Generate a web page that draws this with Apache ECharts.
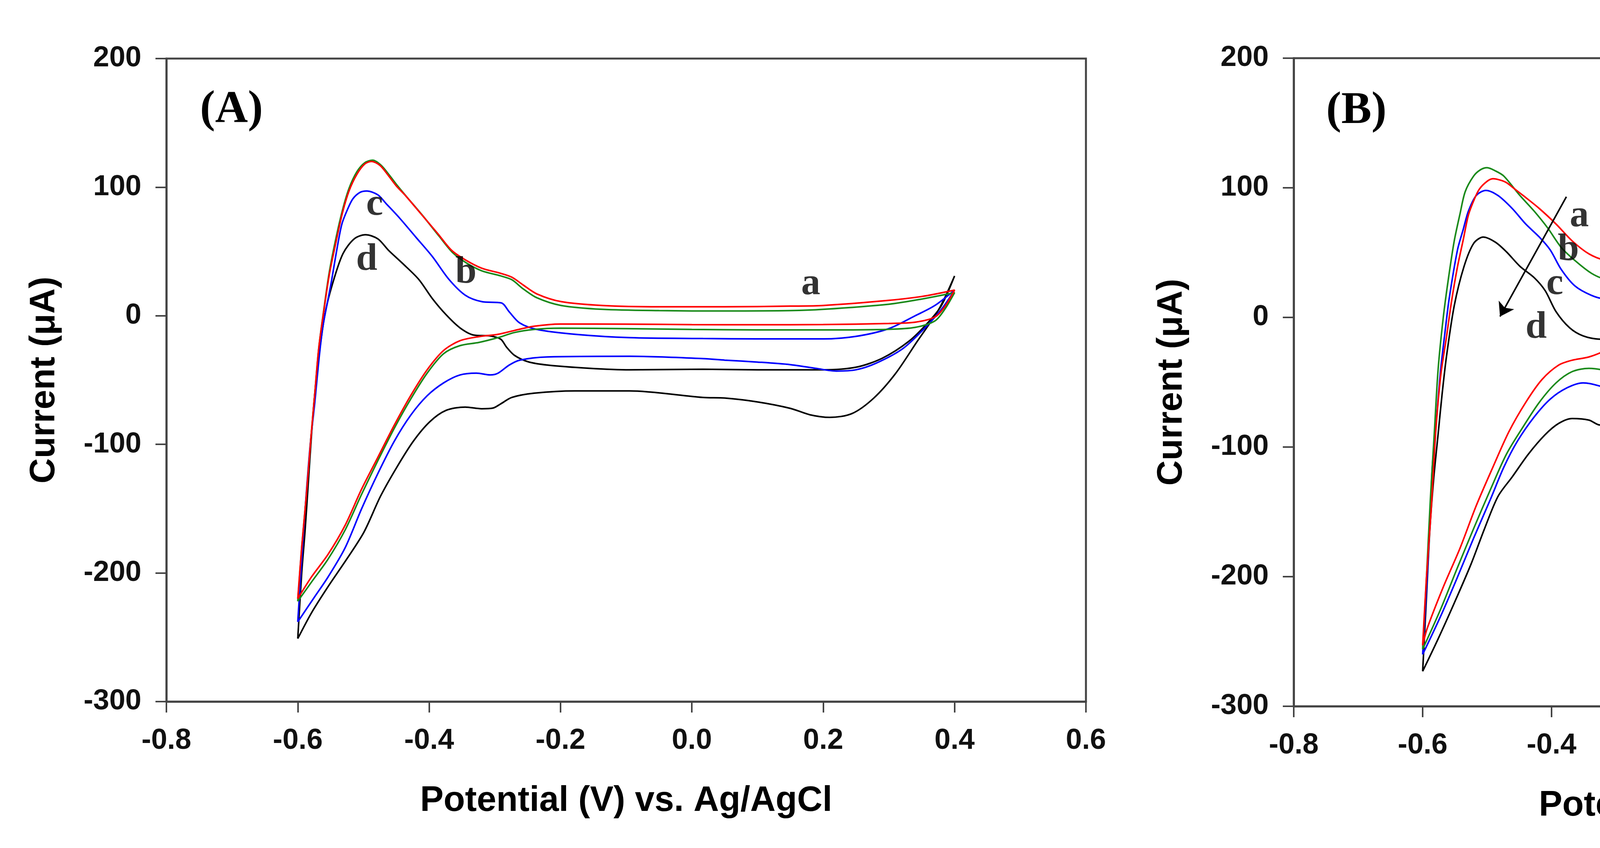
<!DOCTYPE html>
<html>
<head>
<meta charset="utf-8">
<script src="https://cdn.jsdelivr.net/npm/echarts/dist/echarts.min.js"></script>
<style>
html,body{margin:0;padding:0;background:#fff;}
#chart{width:5757px;height:2172px;}
</style>
</head>
<body>
<div id="chart"></div>
<script>
// ---------- axis ticks & texts ----------
const xTicks = [-0.8, -0.6, -0.4, -0.2, 0.0, 0.2, 0.4, 0.6];
const yTicks = [-300, -200, -100, 0, 100, 200];
const xTitle = 'Potential (V) vs. Ag/AgCl';
const yTitle = 'Current (\u03bcA)';
const panelNames = ['(A)', '(B)'];

// ---------- Panel A : [potential V, current uA] ----------
const A_a_anodic = [[-0.600,-220],[-0.594,-180],[-0.587,-140],[-0.580,-95],[-0.574,-60],[-0.568,-25],[-0.560,5],[-0.552,32],[-0.542,57],[-0.532,80],[-0.522,97],[-0.510,110],[-0.498,118],[-0.488,120],[-0.475,117],[-0.462,109],[-0.450,101],[-0.437,94],[-0.412,79],[-0.387,64],[-0.366,51],[-0.345,43.5],[-0.320,37],[-0.291,33],[-0.274,30],[-0.257,24],[-0.236,17],[-0.199,11],[-0.136,8],[-0.05,7],[0.05,7],[0.15,7.5],[0.2,8],[0.3,12],[0.35,15],[0.4,20]];
const A_a_cathodic = [[0.4,20],[0.385,7],[0.37,-1],[0.34,-5],[0.3,-6],[0.2,-6.8],[0.1,-7],[0.0,-6.9],[-0.1,-6.5],[-0.2,-6.4],[-0.24,-8.1],[-0.27,-11.4],[-0.295,-14.4],[-0.324,-16.2],[-0.353,-19.4],[-0.378,-27],[-0.403,-42],[-0.428,-62],[-0.453,-85],[-0.478,-110],[-0.503,-135],[-0.528,-163],[-0.554,-185.6],[-0.579,-203],[-0.600,-220]];
const A_b_anodic = [[-0.600,-222],[-0.594,-180],[-0.587,-140],[-0.580,-95],[-0.574,-60],[-0.568,-25],[-0.560,6],[-0.552,34],[-0.542,60],[-0.532,82],[-0.522,99],[-0.510,112],[-0.498,119],[-0.486,121],[-0.473,117],[-0.460,109],[-0.448,101],[-0.435,93],[-0.410,78],[-0.385,62],[-0.364,49],[-0.343,41],[-0.320,35],[-0.291,31],[-0.274,28],[-0.257,21],[-0.236,14],[-0.199,8],[-0.136,5],[-0.05,4],[0.05,3.7],[0.15,4],[0.2,5],[0.3,9],[0.35,13],[0.4,18]];
const A_b_cathodic = [[0.4,18],[0.385,5],[0.37,-4],[0.34,-9],[0.3,-10.5],[0.2,-11],[0.1,-11],[0.0,-10.6],[-0.1,-10],[-0.2,-9.6],[-0.24,-10.6],[-0.27,-13],[-0.295,-17],[-0.324,-20.7],[-0.353,-23.2],[-0.378,-29.5],[-0.403,-44.6],[-0.428,-64.7],[-0.453,-87.4],[-0.478,-112.6],[-0.503,-139],[-0.528,-166.7],[-0.554,-189.3],[-0.579,-207],[-0.600,-222]];
const A_c_anodic = [[-0.600,-238],[-0.594,-190],[-0.588,-145],[-0.581,-100],[-0.574,-67],[-0.568,-35],[-0.562,-9],[-0.555,10],[-0.549,26],[-0.541,50],[-0.533,71],[-0.524,83],[-0.516,91],[-0.505,96],[-0.495,97],[-0.478,94],[-0.466,87.5],[-0.445,76],[-0.420,61],[-0.395,46],[-0.370,28.4],[-0.345,16],[-0.320,11],[-0.290,10],[-0.278,3],[-0.262,-5.6],[-0.236,-10.6],[-0.178,-14.4],[-0.095,-17],[0.017,-17.7],[0.1,-18],[0.2,-18],[0.25,-16],[0.3,-10],[0.34,0],[0.37,8],[0.4,20]];
const A_c_cathodic = [[0.4,20],[0.38,5],[0.35,-12],[0.32,-26],[0.28,-37],[0.25,-42],[0.22,-43],[0.19,-41],[0.15,-38],[0.1,-36],[0.05,-34.5],[0.017,-33.3],[-0.095,-31.5],[-0.22,-32],[-0.262,-34.5],[-0.278,-38.3],[-0.295,-44.6],[-0.307,-46],[-0.328,-44.6],[-0.353,-46],[-0.378,-52.2],[-0.403,-62.2],[-0.428,-77.3],[-0.453,-97.5],[-0.478,-122.6],[-0.503,-150.3],[-0.528,-180.5],[-0.554,-203.2],[-0.574,-218.3],[-0.600,-238]];
const A_d_anodic = [[-0.600,-251],[-0.594,-200],[-0.589,-168],[-0.584,-130],[-0.579,-92],[-0.574,-60],[-0.568,-32],[-0.558,3],[-0.545,28.4],[-0.531,48.5],[-0.514,59.8],[-0.497,63],[-0.478,59.8],[-0.462,51],[-0.441,41],[-0.416,28.4],[-0.395,13.3],[-0.374,0.7],[-0.353,-9.4],[-0.332,-15],[-0.307,-15.7],[-0.291,-18.2],[-0.282,-24.5],[-0.270,-30.8],[-0.249,-35.8],[-0.220,-38.3],[-0.157,-40.8],[-0.095,-42],[0.017,-41.6],[0.1,-42],[0.2,-42],[0.25,-40],[0.29,-33],[0.33,-20],[0.36,-5],[0.38,8],[0.4,31]];
const A_d_cathodic = [[0.4,31],[0.376,5],[0.343,-20],[0.31,-45],[0.277,-64],[0.244,-76],[0.21,-79],[0.18,-77],[0.15,-72],[0.1,-67],[0.05,-64],[0.017,-63.5],[-0.095,-58.4],[-0.178,-58.4],[-0.24,-60.2],[-0.274,-63.5],[-0.291,-68.5],[-0.303,-71.8],[-0.32,-72.3],[-0.345,-71],[-0.374,-73.5],[-0.399,-82.4],[-0.424,-97.5],[-0.449,-117.6],[-0.474,-140.3],[-0.499,-168],[-0.524,-188.1],[-0.554,-210.7],[-0.579,-230.9],[-0.600,-251]];

// ---------- Panel B ----------
const B_a_anodic = [[-0.600,-253],[-0.594,-200],[-0.587,-150],[-0.580,-90],[-0.572,-45],[-0.563,-15],[-0.555,13],[-0.546,39],[-0.537,60],[-0.529,79],[-0.520,91],[-0.512,99],[-0.500,105],[-0.491,107],[-0.480,106],[-0.470,104],[-0.457,99],[-0.444,94],[-0.419,84],[-0.393,72],[-0.368,59],[-0.342,49],[-0.317,44],[-0.287,42],[-0.274,39],[-0.257,29],[-0.236,21],[-0.206,14],[-0.164,10],[-0.079,8],[0.035,8],[0.1,10],[0.2,15],[0.3,20],[0.35,23],[0.4,26]];
const B_a_cathodic = [[0.4,26],[0.385,8],[0.37,0],[0.34,-5],[0.3,-7],[0.2,-9],[0.1,-10],[0.035,-10.6],[-0.079,-10.1],[-0.164,-10.1],[-0.228,-11],[-0.262,-12.6],[-0.291,-18],[-0.317,-25.6],[-0.342,-30.5],[-0.368,-33],[-0.389,-36.8],[-0.415,-48],[-0.44,-65.5],[-0.466,-88],[-0.491,-115.5],[-0.517,-145.4],[-0.542,-178],[-0.568,-208],[-0.593,-240],[-0.600,-253]];
const B_b_anodic = [[-0.600,-256],[-0.594,-200],[-0.588,-140],[-0.582,-90],[-0.576,-40],[-0.568,0],[-0.560,30],[-0.551,59],[-0.542,80],[-0.534,97],[-0.521,109],[-0.510,114],[-0.500,115.5],[-0.487,113],[-0.474,109],[-0.449,94],[-0.427,82],[-0.406,69],[-0.385,54],[-0.364,44],[-0.338,34],[-0.317,30],[-0.291,32],[-0.279,29],[-0.262,14.4],[-0.241,4.4],[-0.206,-0.6],[-0.164,-3],[-0.079,-4.3],[0.035,-5.6],[0.1,-5],[0.2,-2],[0.3,8],[0.35,15],[0.4,25]];
const B_b_cathodic = [[0.4,25],[0.38,5],[0.35,-10],[0.3,-25],[0.25,-30],[0.2,-30.5],[0.1,-27],[0.035,-24.3],[-0.079,-21],[-0.164,-19.3],[-0.228,-21.8],[-0.262,-29.3],[-0.283,-38],[-0.304,-43],[-0.321,-40.5],[-0.342,-39.3],[-0.368,-41.8],[-0.393,-50.5],[-0.419,-65.5],[-0.444,-84.3],[-0.47,-105.5],[-0.495,-133],[-0.521,-163],[-0.546,-193],[-0.572,-225],[-0.600,-256]];
const B_c_anodic = [[-0.600,-260],[-0.594,-210],[-0.589,-160],[-0.585,-115],[-0.578,-75],[-0.572,-40],[-0.565,-10],[-0.559,14],[-0.546,52],[-0.537,68],[-0.529,82],[-0.517,94],[-0.502,98],[-0.483,94],[-0.461,84],[-0.44,72],[-0.419,62],[-0.402,52],[-0.385,37],[-0.364,24.4],[-0.338,17],[-0.317,14.4],[-0.291,18],[-0.279,14.4],[-0.266,2],[-0.249,-8],[-0.223,-13],[-0.164,-18],[-0.079,-19.3],[0.035,-20.6],[0.1,-20],[0.2,-15],[0.3,-2],[0.35,8],[0.4,24]];
const B_c_cathodic = [[0.4,24],[0.38,0],[0.35,-18],[0.3,-36],[0.25,-47],[0.21,-50],[0.15,-45],[0.1,-42],[0.035,-39.3],[-0.079,-36.8],[-0.164,-32.5],[-0.223,-34.3],[-0.257,-36.8],[-0.279,-44.3],[-0.296,-53],[-0.31,-56.8],[-0.325,-53],[-0.351,-50.5],[-0.376,-54.3],[-0.402,-63],[-0.427,-76.8],[-0.453,-95.5],[-0.474,-115.5],[-0.495,-140.5],[-0.521,-170.4],[-0.546,-200.4],[-0.572,-230.4],[-0.600,-260]];
const B_d_anodic = [[-0.600,-273],[-0.594,-215],[-0.589,-165],[-0.583,-125],[-0.576,-90],[-0.570,-60],[-0.563,-30],[-0.551,9],[-0.536,39],[-0.521,57],[-0.506,62],[-0.487,58],[-0.47,50.6],[-0.449,39.4],[-0.427,30.7],[-0.41,20.7],[-0.393,4.4],[-0.372,-8],[-0.351,-14.3],[-0.325,-16.8],[-0.308,-13],[-0.294,-11],[-0.283,-18],[-0.27,-29.3],[-0.253,-38],[-0.228,-43],[-0.185,-45.5],[-0.121,-46.8],[-0.079,-46],[0.035,-45.5],[0.1,-45],[0.15,-44],[0.2,-38],[0.25,-25],[0.3,-8],[0.35,8],[0.4,22]];
const B_d_cathodic = [[0.4,22],[0.372,-6],[0.345,-22],[0.318,-36],[0.294,-50],[0.27,-68],[0.249,-80],[0.225,-87],[0.2,-89],[0.16,-85],[0.104,-77],[0.049,-71],[0.0,-68],[-0.036,-67],[-0.121,-62.5],[-0.164,-61.3],[-0.228,-61.8],[-0.266,-65.5],[-0.291,-75.5],[-0.308,-83],[-0.325,-83],[-0.342,-79.2],[-0.368,-78],[-0.389,-81.8],[-0.41,-90.5],[-0.436,-105.5],[-0.461,-123],[-0.483,-138],[-0.504,-163],[-0.525,-190.4],[-0.551,-220.4],[-0.576,-248],[-0.600,-273]];

// ---------- curve letters [text, V, uA] and arrow ----------
const lettersA = [['a',0.181,24.7],['b',-0.344,33.4],['c',-0.483,86.2],['d',-0.495,43.4]];
const lettersB = [['a',-0.357,78],['b',-0.374,52],['c',-0.395,25.7],['d',-0.424,-8]];
const arrowB = [[-0.377,93.1],[-0.480,0.7]];

// ---------- styling ----------
const colors = {a:'#ff0000', b:'#1a8a1a', c:'#0000ff', d:'#000000'};
const axisColor = '#444444';
const sans = 'Liberation Sans, Arial, sans-serif';
const serif = 'Liberation Serif, Times New Roman, serif';

const panelA = {a: A_a_anodic.concat(A_a_cathodic), b: A_b_anodic.concat(A_b_cathodic), c: A_c_anodic.concat(A_c_cathodic), d: A_d_anodic.concat(A_d_cathodic)};
const panelB = {a: B_a_anodic.concat(B_a_cathodic), b: B_b_anodic.concat(B_b_cathodic), c: B_c_anodic.concat(B_c_cathodic), d: B_d_anodic.concat(B_d_cathodic)};

const grids = [
  {left:426, top:150, width:2354, height:1647, show:true, borderColor:axisColor, borderWidth:5, backgroundColor:'transparent', containLabel:false, outerBoundsMode:'none'},
  {left:3312, top:149, width:2310, height:1660, show:true, borderColor:axisColor, borderWidth:5, backgroundColor:'transparent', containLabel:false, outerBoundsMode:'none'}
];

function xAxis(i){
  return {
    type:'value', gridIndex:i, min:xTicks[0], max:xTicks[xTicks.length-1], interval:0.2,
    name:xTitle, nameLocation:'middle', nameGap:210,
    nameTextStyle:{fontFamily:sans, fontWeight:'bold', fontSize:90, color:'#000'},
    axisLine:{show:true, onZero:false, lineStyle:{color:axisColor, width:5}},
    axisTick:{show:true, inside:false, length:28, lineStyle:{color:axisColor, width:4}},
    axisLabel:{show:true, margin:64, fontFamily:sans, fontWeight:'bold', fontSize:74, color:'#111',
      showMinLabel:true, showMaxLabel:true, hideOverlap:false, formatter:v=>v.toFixed(1)},
    splitLine:{show:false}, minorTick:{show:false}
  };
}
function yAxis(i){
  return {
    type:'value', gridIndex:i, min:yTicks[0], max:yTicks[yTicks.length-1], interval:100,
    name:yTitle, nameLocation:'middle', nameGap:267, nameRotate:90,
    nameTextStyle:{fontFamily:sans, fontWeight:'bold', fontSize:90, color:'#000'},
    axisLine:{show:true, onZero:false, lineStyle:{color:axisColor, width:5}},
    axisTick:{show:true, inside:false, length:28, lineStyle:{color:axisColor, width:4}},
    axisLabel:{show:true, margin:64, fontFamily:sans, fontWeight:'bold', fontSize:74, color:'#111',
      showMinLabel:true, showMaxLabel:true, hideOverlap:false, formatter:v=>String(Math.round(v))},
    splitLine:{show:false}, minorTick:{show:false}
  };
}

const series = [];
[panelA, panelB].forEach((panel, gi) => {
  ['d','c','b','a'].forEach(k => {
    series.push({
      type:'line', name:(gi?'B-':'A-')+k, xAxisIndex:gi, yAxisIndex:gi,
      data:panel[k], showSymbol:false, symbol:'none', smooth:0.3, smoothMonotone:null,
      lineStyle:{color:colors[k], width:4}, itemStyle:{color:colors[k]}, z:3, silent:true
    });
  });
  const letters = gi ? lettersB : lettersA;
  series.push({
    type:'scatter', xAxisIndex:gi, yAxisIndex:gi, symbolSize:1,
    itemStyle:{color:'rgba(0,0,0,0)'}, z:5, silent:true,
    data:letters.map(l => ({value:[l[1], l[2]], name:l[0]})),
    label:{show:true, position:'inside', formatter:p=>p.name, fontFamily:serif, fontWeight:'bold', fontSize:98, color:'#000', align:'center', verticalAlign:'middle'}
  });
});
series.push({
  type:'lines', coordinateSystem:'cartesian2d', xAxisIndex:1, yAxisIndex:1, z:6, silent:true,
  symbol:['none','arrow'], symbolSize:[1,34],
  lineStyle:{color:'#000', width:4, opacity:1, curveness:0},
  data:[{coords:arrowB}]
});

const option = {
  backgroundColor:'#ffffff',
  animation:false,
  title:[
    {text:panelNames[0], left:512, top:224, padding:0, textStyle:{fontFamily:serif, fontWeight:'bold', fontSize:116, color:'#000'}},
    {text:panelNames[1], left:3395, top:227, padding:0, textStyle:{fontFamily:serif, fontWeight:'bold', fontSize:116, color:'#000'}}
  ],
  grid:grids,
  xAxis:[xAxis(0), xAxis(1)],
  yAxis:[yAxis(0), yAxis(1)],
  series:series
};

const chart = echarts.init(document.getElementById('chart'), null, {renderer:'canvas', width:5757, height:2172, devicePixelRatio:1});
chart.setOption(option);
</script>
</body>
</html>
